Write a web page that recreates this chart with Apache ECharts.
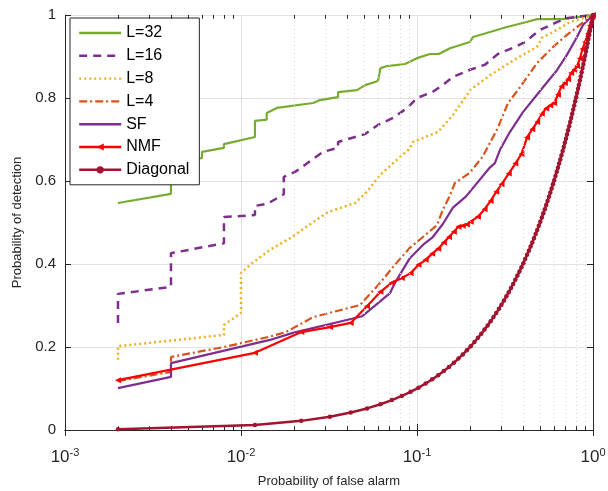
<!DOCTYPE html>
<html>
<head>
<meta charset="utf-8">
<title>ROC curves</title>
<style>
  html, body { margin: 0; padding: 0; background: #fff; }
  #chart { width: 608px; height: 491px; }
</style>
</head>
<body>
<div id="chart"></div>
<script src="https://cdn.jsdelivr.net/npm/echarts@6/dist/echarts.min.js"></script>
<script>
// [false alarm, detection] pairs
var l32 = [[0.002,0.547],[0.004,0.569],[0.004,0.65],[0.006,0.655],[0.006,0.67],[0.008,0.68],[0.008,0.689],
  [0.012,0.706],[0.012,0.745],[0.014,0.748],[0.014,0.764],[0.016,0.776],[0.0257,0.788],[0.0281,0.795],
  [0.0356,0.802],[0.0356,0.814],[0.0456,0.819],[0.0507,0.831],[0.06,0.841],[0.062,0.872],[0.0676,0.877],
  [0.0855,0.882],[0.1,0.896],[0.1186,0.906],[0.133,0.906],[0.154,0.92],[0.2,0.935],[0.208,0.947],
  [0.26,0.959],[0.324,0.971],[0.42,0.983],[0.48,0.99],[0.675,0.99],[1,1]];
var l16 = [[0.002,0.258],[0.002,0.328],[0.004,0.345],[0.004,0.426],[0.008,0.45],[0.008,0.513],[0.012,0.518],
  [0.012,0.54],[0.0141,0.545],[0.0175,0.568],[0.0175,0.61],[0.0203,0.622],[0.0292,0.67],[0.0356,0.68],
  [0.0356,0.694],[0.0507,0.713],[0.06,0.735],[0.073,0.752],[0.088,0.776],[0.1,0.8],[0.123,0.815],
  [0.14,0.831],[0.16,0.851],[0.2,0.868],[0.243,0.88],[0.288,0.906],[0.36,0.923],[0.411,0.935],
  [0.5,0.964],[0.624,0.983],[0.72,0.993],[1,1]];
var l8 = [[0.002,0.169],[0.002,0.202],[0.008,0.229],[0.008,0.253],[0.01,0.282],[0.01,0.378],[0.01155,0.402],
  [0.0146,0.434],[0.019,0.462],[0.0257,0.501],[0.0312,0.525],[0.0445,0.547],[0.052,0.574],[0.0616,0.614],
  [0.0731,0.643],[0.091,0.678],[0.0948,0.694],[0.1315,0.718],[0.16,0.759],[0.192,0.807],[0.2,0.819],
  [0.26,0.855],[0.37,0.896],[0.48,0.923],[0.513,0.945],[0.624,0.964],[0.74,0.983],[1,1]];
var l4 = [[0.002,0.118],[0.004,0.14],[0.004,0.176],[0.008,0.2],[0.0146,0.225],[0.018,0.236],[0.0257,0.272],
  [0.0474,0.301],[0.0616,0.354],[0.0731,0.393],[0.091,0.439],[0.108,0.465],[0.13,0.494],[0.14,0.53],
  [0.154,0.565],[0.164,0.595],[0.2,0.62],[0.237,0.66],[0.288,0.728],[0.329,0.788],[0.385,0.826],
  [0.48,0.884],[0.593,0.923],[0.711,0.952],[0.843,0.976],[1,1]];
var sf = [[0.002,0.101],[0.004,0.128],[0.004,0.161],[0.0146,0.217],[0.0197,0.234],[0.0427,0.268],
  [0.0487,0.274],[0.0703,0.33],[0.0748,0.354],[0.091,0.414],[0.108,0.446],[0.123,0.465],[0.1406,0.497],
  [0.16,0.536],[0.19,0.563],[0.26,0.633],[0.277,0.643],[0.296,0.675],[0.337,0.718],[0.4,0.766],
  [0.52,0.826],[0.624,0.867],[0.711,0.904],[0.811,0.947],[0.877,0.976],[1,1]];
var nmf = [[0.002,0.12],[0.012,0.186],[0.022,0.236],[0.032,0.248],[0.042,0.258],[0.052,0.298],[0.062,0.333],
  [0.072,0.355],[0.082,0.366],[0.092,0.378],[0.102,0.398],[0.112,0.41],[0.122,0.425],[0.132,0.437],
  [0.142,0.452],[0.152,0.465],[0.162,0.478],[0.172,0.49],[0.182,0.492],[0.192,0.495],[0.202,0.502],
  [0.222,0.514],[0.242,0.532],[0.262,0.552],[0.282,0.574],[0.302,0.592],[0.332,0.618],[0.362,0.642],
  [0.392,0.665],[0.422,0.705],[0.452,0.725],[0.482,0.742],[0.512,0.762],[0.542,0.775],[0.572,0.782],
  [0.602,0.788],[0.632,0.808],[0.662,0.828],[0.692,0.836],[0.722,0.845],[0.752,0.86],[0.782,0.868],
  [0.812,0.877],[0.842,0.895],[0.872,0.918],[0.902,0.935],[0.932,0.955],[0.962,0.975],[0.992,0.995],[1,1]];
// diagonal: detection equals false alarm at each sampled threshold
var diagVals = [0.002,0.012,0.022,0.032,0.042,0.052,0.062,0.072,0.082,0.092,0.102,0.112,0.122,0.132,0.142,
  0.152,0.162,0.172,0.182,0.192,0.202,0.212,0.222,0.232,0.242,0.252,0.262,0.272,0.282,0.292,0.302,0.312,
  0.322,0.332,0.342,0.352,0.362,0.372,0.382,0.392,0.402,0.412,0.422,0.432,0.442,0.452,0.462,0.472,0.482,
  0.492,0.502,0.512,0.522,0.532,0.542,0.552,0.562,0.572,0.582,0.592,0.602,0.612,0.622,0.632,0.642,0.652,
  0.662,0.672,0.682,0.692,0.702,0.712,0.722,0.732,0.742,0.752,0.762,0.772,0.782,0.792,0.802,0.812,0.822,
  0.832,0.842,0.852,0.862,0.872,0.882,0.892,0.902,0.912,0.922,0.932,0.942,0.952,0.962,0.972,0.982,0.992,1];
var minorX = [0.002,0.003,0.004,0.005,0.006,0.007,0.008,0.009,0.02,0.03,0.04,0.05,0.06,0.07,0.08,0.09,
  0.2,0.3,0.4,0.5,0.6,0.7,0.8,0.9];

var chart = echarts.init(document.getElementById('chart'));
var font = 'Liberation Sans, Arial, Helvetica, sans-serif';
var ink = '#262626';

var minorGrid = minorX.map(function (v) { return { xAxis: v }; });
var minorTicks = [];
minorX.forEach(function (v) {
  minorTicks.push([{ coord: [v, 0] }, { coord: [v, 0.009] }]);
  minorTicks.push([{ coord: [v, 1] }, { coord: [v, 0.991] }]);
});

function lineSeries(name, data, color, type, width) {
  return {
    name: name, type: 'line', data: data, symbol: 'none',
    lineStyle: { color: color, width: width || 2, type: type || 'solid', cap: 'butt' },
    // hide the legend dot, keep only the line sample
    itemStyle: { color: color, opacity: 0 },
    z: 3
  };
}

var option = {
  animation: false,
  textStyle: { fontFamily: font },
  grid: { left: 65, right: 15, top: 15, bottom: 61, outerBoundsMode: 'none', containLabel: false },
  xAxis: [{
    type: 'log', logBase: 10, min: 0.001, max: 1,
    name: 'Probability of false alarm', nameLocation: 'middle', nameGap: 45,
    nameTextStyle: { fontSize: 13, color: ink, fontFamily: font },
    axisLine: { lineStyle: { color: ink, width: 1 } },
    axisTick: { inside: true, length: 6, lineStyle: { color: ink } },
    splitLine: { show: true, lineStyle: { color: '#e3e3e3', width: 1 } },
    axisLabel: {
      margin: 17,
      formatter: function (v) { return '{b|10}{s|' + Math.round(Math.log10(v)) + '}'; },
      rich: {
        b: { fontSize: 17, color: ink, fontFamily: font },
        s: { fontSize: 11, color: ink, fontFamily: font, verticalAlign: 'bottom', padding: [0, 0, 9, 0] }
      }
    }
  }, {
    type: 'log', logBase: 10, min: 0.001, max: 1, position: 'top',
    axisLine: { show: true, lineStyle: { color: ink, width: 1 } },
    axisTick: { show: true, inside: true, length: 6, lineStyle: { color: ink } },
    axisLabel: { show: false }, splitLine: { show: false }
  }],
  yAxis: [{
    type: 'value', min: 0, max: 1, interval: 0.2,
    name: 'Probability of detection', nameLocation: 'middle', nameGap: 37,
    nameTextStyle: { fontSize: 13, color: ink, fontFamily: font },
    axisLine: { show: true, lineStyle: { color: ink, width: 1 } },
    axisTick: { show: true, inside: true, length: 6, lineStyle: { color: ink } },
    splitLine: { show: true, lineStyle: { color: '#e3e3e3', width: 1 } },
    axisLabel: { fontSize: 15, color: ink, margin: 9, fontFamily: font }
  }, {
    type: 'value', min: 0, max: 1, interval: 0.2, position: 'right',
    axisLine: { show: true, lineStyle: { color: ink, width: 1 } },
    axisTick: { show: true, inside: true, length: 6, lineStyle: { color: ink } },
    axisLabel: { show: false }, splitLine: { show: false }
  }],
  legend: {
    orient: 'vertical', left: 70, top: 18,
    backgroundColor: '#fff', borderColor: ink, borderWidth: 1, borderRadius: 0,
    padding: [7, 10, 7, 8], itemWidth: 42, itemHeight: 9, itemGap: 6.8,
    lineStyle: { width: 2.4 },
    textStyle: { fontSize: 16, color: '#000', fontFamily: font },
    data: ['L=32', 'L=16', 'L=8', 'L=4', 'SF', 'NMF', 'Diagonal']
  },
  series: [
    {
      name: 'grid-minor', type: 'line', data: [], silent: true, z: 1,
      markLine: {
        silent: true, symbol: 'none', label: { show: false }, animation: false,
        lineStyle: { color: '#d6d6d6', type: [1, 3], width: 1 },
        data: minorGrid
      }
    },
    {
      name: 'tick-minor', type: 'line', data: [], silent: true, z: 2,
      markLine: {
        silent: true, symbol: 'none', label: { show: false }, animation: false,
        lineStyle: { color: ink, type: 'solid', width: 1 },
        data: minorTicks
      }
    },
    lineSeries('L=32', l32, '#77AC30', 'solid', 2.2),
    lineSeries('L=16', l16, '#7E2F8E', [8, 6], 2.5),
    lineSeries('L=8', l8, '#EDB120', [2, 3], 2.5),
    lineSeries('L=4', l4, '#D95319', [8, 3, 2, 3], 2.2),
    lineSeries('SF', sf, '#7E2F8E', 'solid', 2.2),
    {
      name: 'NMF', type: 'line', data: nmf, z: 4,
      symbol: 'triangle', symbolRotate: 90, symbolSize: 6, showSymbol: true,
      lineStyle: { color: '#FF0000', width: 2.2 },
      itemStyle: { color: '#FF0000', borderWidth: 0 }
    },
    {
      name: 'Diagonal', type: 'line', data: diagVals.map(function (v) { return [v, v]; }), z: 5,
      symbol: 'circle', symbolSize: 4.5, showSymbol: true,
      lineStyle: { color: '#A2142F', width: 2.5 },
      itemStyle: { color: '#A2142F', borderWidth: 0 }
    }
  ]
};
chart.setOption(option);
window.addEventListener('resize', function () { chart.resize(); });
</script>
</body>
</html>
